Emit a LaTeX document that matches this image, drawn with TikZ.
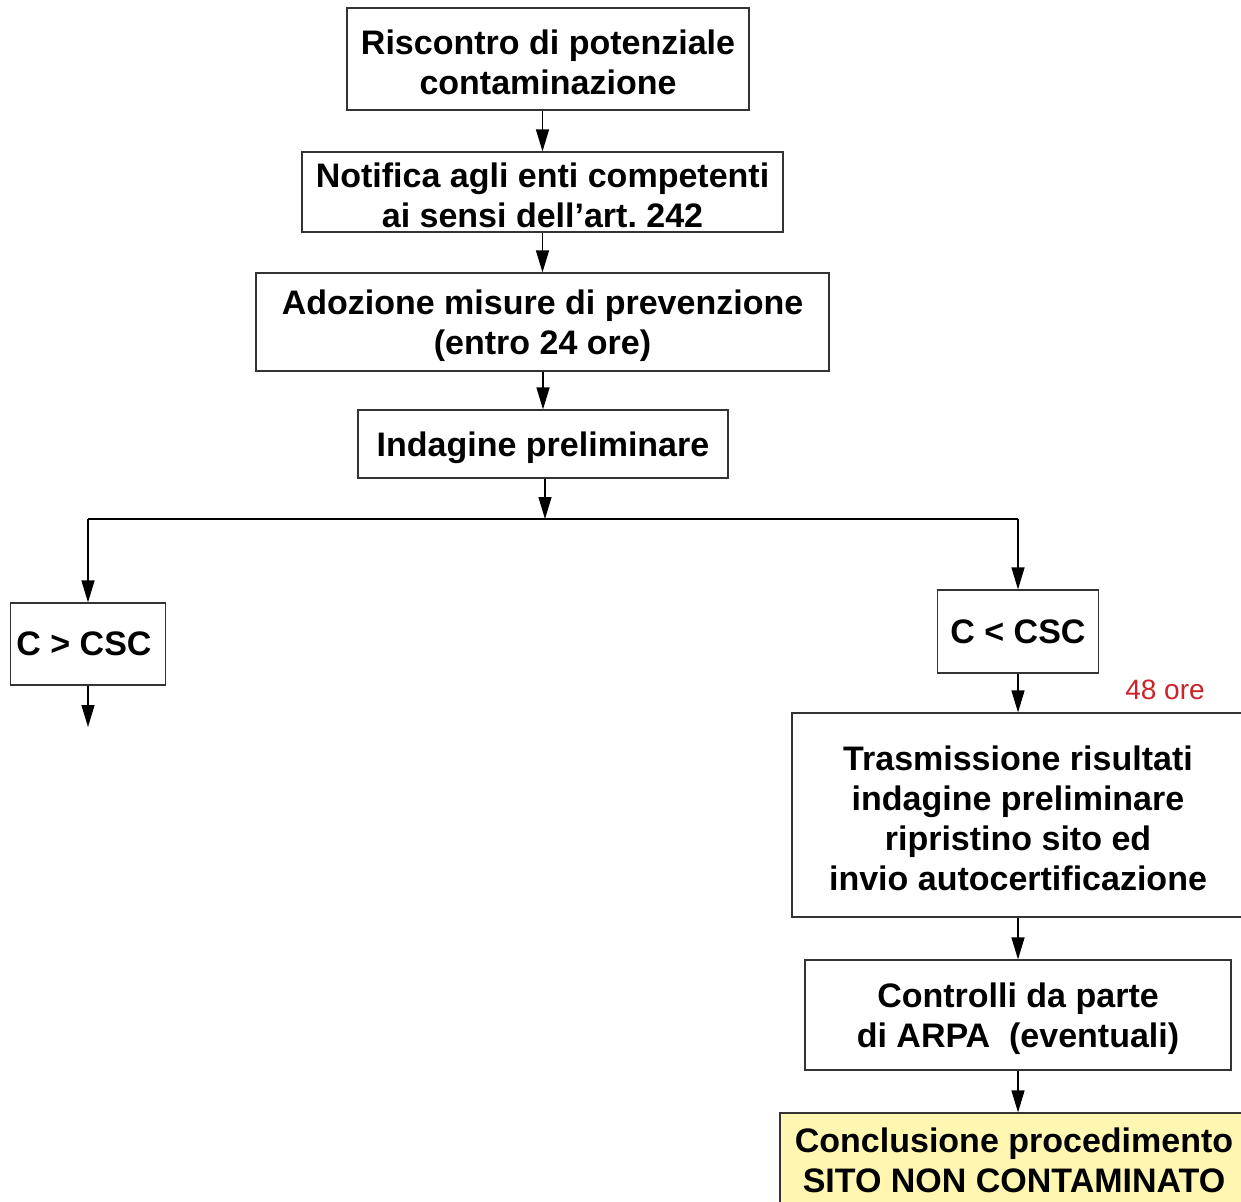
\documentclass[tikz,border=0pt]{standalone}
\usepackage{fontspec}
\setmainfont{Liberation Sans}
\usetikzlibrary{arrows.meta,calc,positioning}
\definecolor{conclfill}{RGB}{255,246,178}
\definecolor{orered}{RGB}{204,34,41}
\newcommand{\lift}{\rule{0pt}{32pt}}
\frenchspacing

\begin{document}
\begin{tikzpicture}[x=1pt, y=-1pt,
  nbox/.style={draw=black!80, line width=1.2pt, fill=white, align=center, inner sep=0pt,
               font=\fontsize{34}{40}\selectfont\bfseries},
  nend/.style={nbox, fill=conclfill},
  link/.style={line width=1.3pt, -{Triangle[length=22pt,width=13pt]}}
 ]
  \useasboundingbox (0,0) rectangle (1241,1201);
  \clip (0,0) rectangle (1241,1201);

  % main column
  \node [nbox, minimum width=402pt, minimum height=102pt] (risc) at (548,59) {\lift Riscontro di potenziale\\contaminazione};
  \node [nbox, minimum width=481pt, minimum height=80pt] (notif) at (542.5,192) {\lift Notifica agli enti competenti\\ai sensi dell’art. 242};
  \node [nbox, minimum width=573pt, minimum height=98pt] (adoz) at (542.5,322) {\lift Adozione misure di prevenzione\\(entro 24 ore)};
  \node [nbox, minimum width=370pt, minimum height=68pt] (indag) at (543,444) {\lift Indagine preliminare};

  % branches
  \coordinate (split) at (545,519);
  \coordinate (lft) at (88,519);
  \coordinate (rgt) at (1018,519);
  \node [nbox, minimum width=155pt, minimum height=82pt] (cgt) at (88,644) {C > CSC\hspace*{8pt}};
  \coordinate (gtend) at (88,727);
  \node [nbox, minimum width=161pt, minimum height=83pt] (clt) at (1018,631.5) {C < CSC};

  % right column
  \node [nbox, minimum width=452pt, minimum height=204pt] (trasm) at (1018,815) {\lift Trasmissione risultati\\indagine preliminare\\ripristino sito ed\\invio autocertificazione};
  \node [font=\fontsize{28}{30}\selectfont, text=orered, inner sep=0pt] (ore) at (1165,690) {48 ore};
  \node [nbox, minimum width=426pt, minimum height=110pt] (contr) at (1018,1015) {\lift Controlli da parte\\di ARPA\ \ (eventuali)};
  \node [nend, minimum width=468pt, minimum height=94pt] (concl) at (1014,1160) {Conclusione procedimento\\SITO NON CONTAMINATO};

  \draw [link] (notif.north |- risc.south) -- (notif.north);
  \draw [link] (notif.south) -- (adoz.north);
  \draw [link] (adoz.south -| indag.north) -- (indag.north);
  \draw [link] (indag.south -| split) -- (split);
  \draw [line width=1.3pt] (lft) -- (rgt);
  \draw [link] (lft) -- (cgt.north);
  \draw [link] (cgt.south) -- (gtend);
  \draw [link] (rgt) -- (clt.north);
  \draw [link] (clt.south) -- (trasm.north);
  \draw [link] (trasm.south) -- (contr.north);
  \draw [link] (contr.south) -- (concl.north -| contr.south);
\end{tikzpicture}
\end{document}
